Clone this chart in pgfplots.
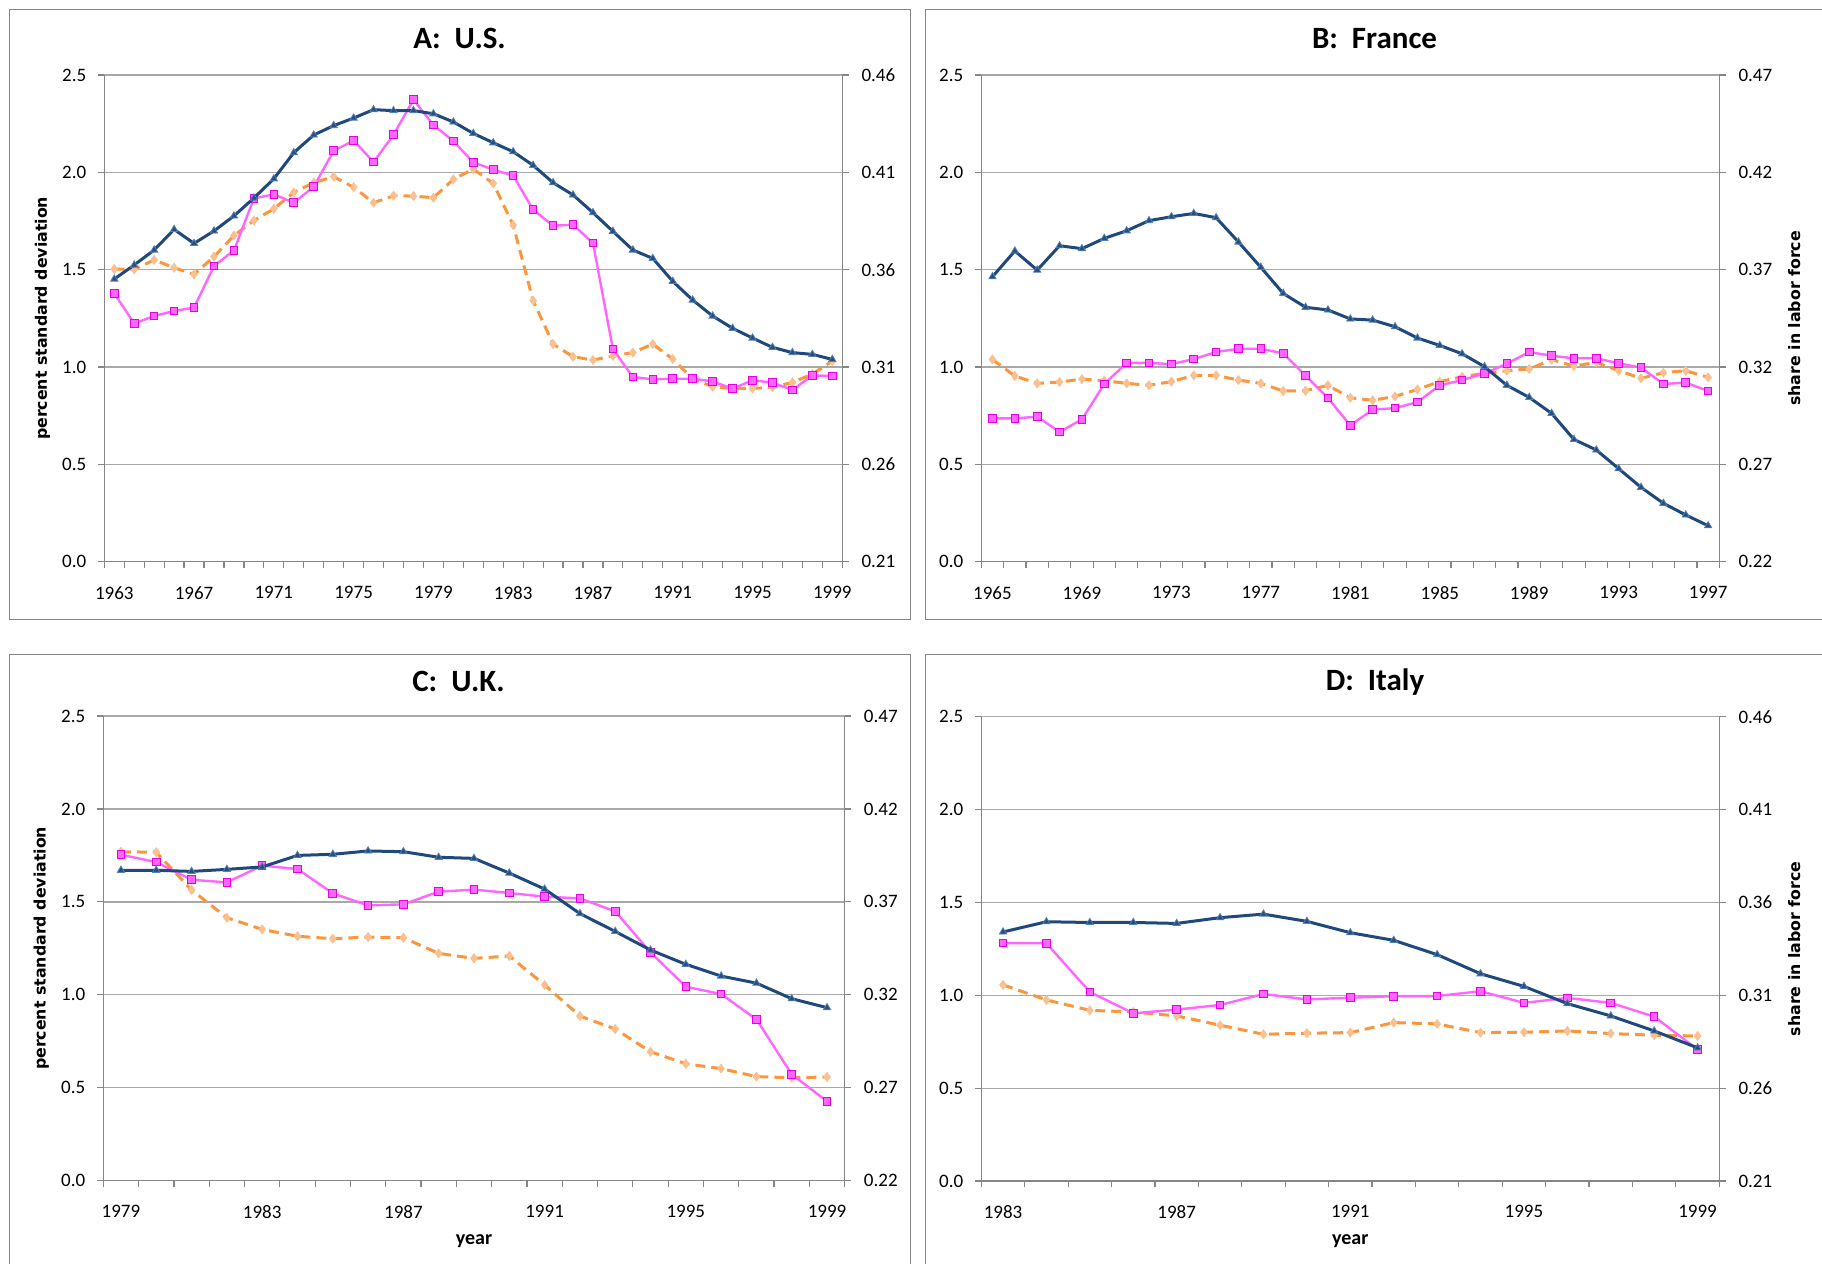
\documentclass[border=0pt]{standalone}
\usepackage{fontspec}
\setmainfont{Carlito}
\newfontfamily\verd{DejaVu Sans}
\usepackage{pgfplots}
\usepackage{pgfplotstable}
\pgfplotsset{compat=1.18}

\definecolor{navy}{RGB}{31,73,125}
\definecolor{navyfill}{RGB}{44,77,117}
\definecolor{bluedge}{RGB}{79,129,189}
\definecolor{pinkL}{RGB}{255,102,255}
\definecolor{pinkD}{RGB}{230,0,230}
\definecolor{orangeL}{RGB}{250,150,60}
\definecolor{peach}{RGB}{250,192,144}
\definecolor{gridgray}{RGB}{168,168,168}
\definecolor{axisgray}{RGB}{134,134,134}

% year, pink (sd), orange (sd), share (right axis)
\pgfplotstableread{
year pink orange share
1963 1.378 1.503 0.3552
1964 1.224 1.502 0.3624
1965 1.262 1.550 0.3701
1966 1.288 1.510 0.3807
1967 1.305 1.476 0.3735
1968 1.519 1.567 0.3799
1969 1.599 1.675 0.3876
1970 1.866 1.752 0.3968
1971 1.887 1.813 0.4067
1972 1.844 1.897 0.4201
1973 1.926 1.947 0.4292
1974 2.111 1.978 0.4340
1975 2.163 1.923 0.4379
1976 2.053 1.844 0.4422
1977 2.193 1.880 0.4417
1978 2.373 1.878 0.4417
1979 2.243 1.870 0.4401
1980 2.161 1.964 0.4359
1981 2.051 2.017 0.4300
1982 2.014 1.943 0.4252
1983 1.983 1.729 0.4206
1984 1.808 1.341 0.4136
1985 1.726 1.118 0.4047
1986 1.731 1.053 0.3984
1987 1.637 1.036 0.3893
1988 1.092 1.057 0.3797
1989 0.949 1.074 0.3701
1990 0.937 1.118 0.3658
1991 0.940 1.041 0.3540
1992 0.940 0.940 0.3444
1993 0.926 0.899 0.3362
1994 0.889 0.889 0.3299
1995 0.932 0.890 0.3249
1996 0.920 0.896 0.3201
1997 0.882 0.921 0.3174
1998 0.957 0.964 0.3165
1999 0.954 1.031 0.3139
}\usdata

\pgfplotstableread{
year pink orange share
1965 0.736 1.039 0.3664
1966 0.736 0.954 0.3796
1967 0.745 0.916 0.3698
1968 0.666 0.923 0.3823
1969 0.731 0.938 0.3808
1970 0.913 0.930 0.3861
1971 1.021 0.916 0.3900
1972 1.021 0.906 0.3952
1973 1.015 0.925 0.3972
1974 1.041 0.957 0.3989
1975 1.077 0.957 0.3967
1976 1.094 0.933 0.3842
1977 1.094 0.916 0.3712
1978 1.070 0.877 0.3578
1979 0.955 0.878 0.3507
1980 0.841 0.906 0.3493
1981 0.700 0.842 0.3447
1982 0.781 0.829 0.3441
1983 0.789 0.849 0.3407
1984 0.820 0.885 0.3349
1985 0.906 0.925 0.3311
1986 0.933 0.950 0.3268
1987 0.967 0.967 0.3202
1988 1.017 0.981 0.3106
1989 1.077 0.990 0.3044
1990 1.058 1.038 0.2962
1991 1.045 1.005 0.2828
1992 1.045 1.024 0.2774
1993 1.019 0.981 0.2678
1994 0.997 0.942 0.2582
1995 0.913 0.971 0.2500
1996 0.920 0.981 0.2440
1997 0.877 0.947 0.2385
}\frdata

\pgfplotstableread{
year pink orange share
1979 1.754 1.770 0.3870
1980 1.714 1.767 0.3870
1981 1.619 1.564 0.3864
1982 1.605 1.415 0.3875
1983 1.695 1.352 0.3888
1984 1.677 1.315 0.3950
1985 1.546 1.302 0.3956
1986 1.481 1.311 0.3974
1987 1.487 1.307 0.3970
1988 1.555 1.223 0.3940
1989 1.566 1.196 0.3934
1990 1.548 1.209 0.3855
1991 1.528 1.053 0.3769
1992 1.519 0.886 0.3637
1993 1.449 0.816 0.3541
1994 1.228 0.694 0.3441
1995 1.044 0.629 0.3364
1996 1.004 0.603 0.3301
1997 0.868 0.560 0.3263
1998 0.572 0.554 0.3179
1999 0.427 0.558 0.3131
}\ukdata

\pgfplotstableread{
year pink orange share
1983 1.281 1.056 0.3441
1984 1.280 0.975 0.3496
1985 1.018 0.919 0.3492
1986 0.903 0.910 0.3492
1987 0.923 0.889 0.3487
1988 0.948 0.839 0.3518
1989 1.007 0.790 0.3537
1990 0.978 0.796 0.3498
1991 0.987 0.799 0.3437
1992 0.995 0.853 0.3396
1993 0.996 0.846 0.3319
1994 1.022 0.799 0.3216
1995 0.959 0.801 0.3148
1996 0.986 0.808 0.3055
1997 0.959 0.794 0.2989
1998 0.885 0.785 0.2908
1999 0.708 0.781 0.2817
}\itdata

\pgfplotsset{
  common/.style={
    scale only axis,
    anchor=south west,
    tick align=outside,
    major tick length=3.2pt,
    minor tick length=3.2pt,
    axis line style={axisgray, line width=0.6pt},
    tick style={axisgray, line width=0.6pt},
    /pgf/number format/assume math mode=true,
    ticklabel style={font=\fontsize{9.5}{10.5}\selectfont, text=black},
    clip=false,
  },
  leftax/.style={
    common,
    axis x line*=bottom,
    axis y line*=left,
    ymin=0, ymax=2.5,
    ytick={0,0.5,1,1.5,2,2.5},
    ymajorgrids,
    grid style={gridgray, line width=0.65pt},
    major x tick style={draw=none},
    yticklabel style={/pgf/number format/.cd, fixed, fixed zerofill, precision=1, /tikz/.cd, xshift=-2.3pt},
    xticklabel style={/pgf/number format/1000 sep={}, yshift=-5.5pt},
    title style={anchor=center, yshift=-6pt, font=\bfseries\fontsize{15.5}{17}\selectfont},
  },
  rightax/.style={
    common,
    axis x line=none,
    axis y line*=right,
    xtick=\empty,
    yticklabel style={/pgf/number format/.cd, fixed, fixed zerofill, precision=2, /tikz/.cd, xshift=2.9pt},
  },
  leftlab/.style={ylabel={percent standard deviation},
    ylabel style={at={(axis description cs:-0.0836,0.5)}, anchor=center, font=\verd\bfseries\fontsize{7.9}{9}\selectfont}},
  rightlab/.style={ylabel={share in labor force},
    ylabel style={at={(axis description cs:1.1016,0.5)}, anchor=center, rotate=0, font=\verd\bfseries\fontsize{7.9}{9}\selectfont}},
  yearlab/.style={xlabel={year},
    xlabel style={at={(axis description cs:0.5,-0.129)}, anchor=center, font=\bfseries\fontsize{10}{11}\selectfont}},
  pinkst/.style={color=pinkL, line width=1.2pt, mark=square*, mark size=1.9pt,
    mark options={fill=pinkL, draw=pinkD, line width=0.5pt, solid}},
  orangest/.style={color=orangeL, line width=1.5pt, dash pattern=on 5pt off 3pt,
    mark=diamond*, mark size=2.3pt, mark options={fill=peach, draw=peach, line width=0.3pt, solid}},
  bluest/.style={color=navy, line width=1.5pt, mark=triangle*, mark size=2.1pt,
    mark options={fill=navyfill, draw=bluedge, line width=0.4pt, solid}},
}

\begin{document}
\begin{tikzpicture}
\path[use as bounding box] (0,0) rectangle (911pt,-632pt);
% chart frames
\draw[axisgray, line width=0.5pt] (4.5pt,-4.5pt) rectangle (455pt,-309.5pt);
\draw[axisgray, line width=0.5pt] (462.5pt,-4.5pt) rectangle (912pt,-309.5pt);
\draw[axisgray, line width=0.5pt] (4.5pt,-327pt) rectangle (455pt,-633pt);
\draw[axisgray, line width=0.5pt] (462.5pt,-327pt) rectangle (912pt,-633pt);

% ---------------- A: U.S.
\begin{axis}[leftax, leftlab, at={(52.15pt,-280.85pt)}, width=369pt, height=243.35pt,
  xmin=1962.5, xmax=1999.5, xtick={1963,1967,...,1999}, minor xtick={1962.5,1963.5,...,1999.5},
  title={A:\ \ U.S.}, title style={at={(axis description cs:0.4813,1.0752)}}]
\addplot[orangest] table[x=year, y=orange] {\usdata};
\addplot[pinkst] table[x=year, y=pink] {\usdata};
\end{axis}
\begin{axis}[rightax, at={(52.15pt,-280.85pt)}, width=369pt, height=243.35pt,
  xmin=1962.5, xmax=1999.5, ymin=0.21, ymax=0.46, ytick={0.21,0.26,0.31,0.36,0.41,0.46}]
\addplot[bluest] table[x=year, y=share] {\usdata};
\end{axis}

% ---------------- B: France
\begin{axis}[leftax, at={(490.65pt,-280.85pt)}, width=369pt, height=243.35pt,
  xmin=1964.5, xmax=1997.5, xtick={1965,1969,...,1997}, minor xtick={1964.5,1965.5,...,1997.5},
  title={B:\ \ France}, title style={at={(axis description cs:0.5328,1.0752)}}]
\addplot[orangest] table[x=year, y=orange] {\frdata};
\addplot[pinkst] table[x=year, y=pink] {\frdata};
\end{axis}
\begin{axis}[rightax, rightlab, at={(490.65pt,-280.85pt)}, width=369pt, height=243.35pt,
  xmin=1964.5, xmax=1997.5, ymin=0.22, ymax=0.47, ytick={0.22,0.27,0.32,0.37,0.42,0.47}]
\addplot[bluest] table[x=year, y=share] {\frdata};
\end{axis}

% ---------------- C: U.K.
\begin{axis}[leftax, leftlab, yearlab, at={(51.65pt,-590.35pt)}, width=370.7pt, height=232.35pt,
  xmin=1978.5, xmax=1999.5, xtick={1979,1983,...,1999}, minor xtick={1978.5,1979.5,...,1999.5},
  title={C:\ \ U.K.}, title style={at={(axis description cs:0.4791,1.0736)}}]
\addplot[orangest] table[x=year, y=orange] {\ukdata};
\addplot[pinkst] table[x=year, y=pink] {\ukdata};
\end{axis}
\begin{axis}[rightax, at={(51.65pt,-590.35pt)}, width=370.7pt, height=232.35pt,
  xmin=1978.5, xmax=1999.5, ymin=0.22, ymax=0.47, ytick={0.22,0.27,0.32,0.37,0.42,0.47}]
\addplot[bluest] table[x=year, y=share] {\ukdata};
\end{axis}

% ---------------- D: Italy
\begin{axis}[leftax, yearlab, at={(490.65pt,-590.5pt)}, width=369pt, height=232.15pt,
  xmin=1982.5, xmax=1999.5, xtick={1983,1987,...,1999}, minor xtick={1982.5,1983.5,...,1999.5},
  title={D:\ \ Italy}, title style={at={(axis description cs:0.5335,1.0752)}}]
\addplot[orangest] table[x=year, y=orange] {\itdata};
\addplot[pinkst] table[x=year, y=pink] {\itdata};
\end{axis}
\begin{axis}[rightax, rightlab, at={(490.65pt,-590.5pt)}, width=369pt, height=232.15pt,
  xmin=1982.5, xmax=1999.5, ymin=0.21, ymax=0.46, ytick={0.21,0.26,0.31,0.36,0.41,0.46}]
\addplot[bluest] table[x=year, y=share] {\itdata};
\end{axis}
\end{tikzpicture}
\end{document}
